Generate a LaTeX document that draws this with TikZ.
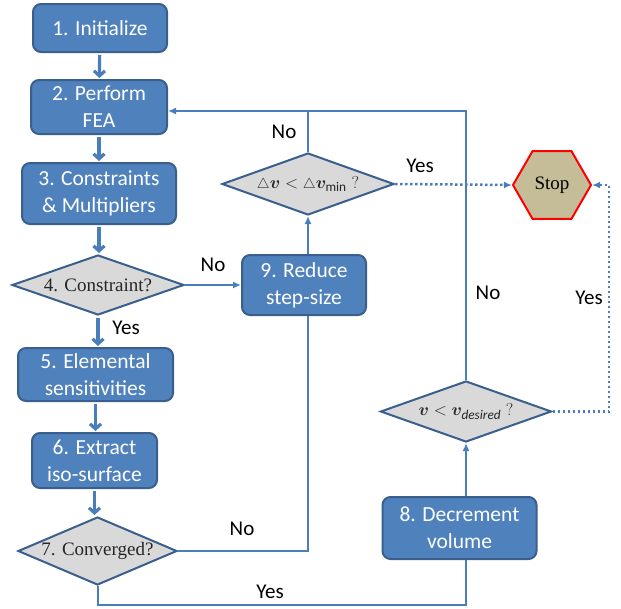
\documentclass[tikz,border=0pt]{standalone}
\usepackage{bm}
\usepackage{fontspec}
\setmainfont{Carlito}
\newfontfamily\serif{Liberation Serif}
\usetikzlibrary{shapes.geometric,arrows.meta}
\definecolor{boxfill}{HTML}{4F81BD}
\definecolor{boxline}{HTML}{3A5F8D}
\definecolor{linec}{HTML}{4A7EBB}
\definecolor{diafill}{HTML}{D9D9D9}
\definecolor{stopfill}{HTML}{C4BD97}
\tikzset{
  stepbox/.style={draw=boxline, line width=2, fill=boxfill, rounded corners=8, text=white, align=center, inner sep=0, font=\fontsize{21.5}{27}\selectfont},
  dia/.style={diamond, draw=boxline, line width=2, fill=diafill, inner sep=0},
  diatext/.style={font=\serif\fontsize{19}{21}\selectfont, text=black!85},
  flow/.style={draw=linec, line width=2},
  down/.style={draw=linec, line width=3.2, -{Straight Barb[length=5,width=11]}, shorten <=2, shorten >=1},
  tip/.style={-{Latex[length=8,width=7]}},
  dots/.style={draw=linec, line width=2.5, dash pattern=on 2.5 off 2.5},
  lbl/.style={font=\fontsize{21}{23}\selectfont}
}
\begin{document}
\begin{tikzpicture}[x=1pt,y=-1pt]
\useasboundingbox (0,0) rectangle (621,608);
% boxes
\node[stepbox, minimum width=134, minimum height=48] (n1) at (100,28) {1. Initialize};
\node[stepbox, minimum width=136, minimum height=54] (n2) at (99,107) {2. Perform\\FEA};
\node[stepbox, minimum width=154, minimum height=61] (n3) at (99,193.5) {3. Constraints\\\& Multipliers};
\node[dia, minimum width=172, minimum height=60] (d4) at (98,285) {};
\node[diatext] (t4) at (d4) {4. Constraint?};
\node[stepbox, minimum width=155, minimum height=53] (n5) at (95.5,374.5) {5. Elemental\\sensitivities};
\node[stepbox, minimum width=125, minimum height=55] (n6) at (94.5,460.5) {6. Extract\\iso-surface};
\node[dia, minimum width=159, minimum height=68] (d7) at (97.5,551) {};
\node[diatext] (t7) at (d7) {7. Converged?};
\node[stepbox, minimum width=124, minimum height=60] (n9) at (304,285) {9. Reduce\\step-size};
\node[dia, minimum width=172, minimum height=62] (dv) at (308,184) {};
\node[diatext] (tv) at (dv) {$\scriptstyle\triangle\textstyle \bm{v}<{\scriptstyle\triangle}\bm{v}_{\min}\;?$};
\node[regular polygon, regular polygon sides=6, minimum size=78, inner sep=0, draw=red, line width=2, fill=stopfill, font=\serif\fontsize{19}{21}\selectfont] (stop) at (552,185) {Stop};
\node[dia, minimum width=171, minimum height=61] (dd) at (466,411.5) {};
\node[diatext] (td) at (dd) {$\bm{v}<\bm{v}_{\mathit{desired}}\;?$};
\node[stepbox, minimum width=154, minimum height=62] (n8) at (459.5,528) {8. Decrement\\volume};
% junctions
\coordinate (j1) at (308,111);
\coordinate (j2) at (466,111);
\coordinate (j3) at (609,300);
\coordinate (j4) at (466,605);
% main column
\draw[down] (n1) -- (n2);
\draw[down] (n2) -- (n3);
\draw[down] (n3.south) -- (n3.south |- d4.north);
\draw[down] (d4.south) -- (d4.south |- n5.north);
\draw[down] (n5.south) -- (n5.south |- n6.north);
\draw[down] (n6.south) -- (n6.south |- d7.north);
% branches
\draw[flow, tip] (d4.east) -- (n9.west);
\draw[flow] (d7.east) -| (n9.south -| dv.south);
\draw[flow, tip] (n9.north -| dv.south) -- (dv.south);
\draw[flow, tip] (dv.north) -- (j1) -- (n2.east |- j1);
\draw[flow] (dd.north) -- (j2) -- (j1);
\draw[dots, tip] (dv.east) -- (stop.west);
\draw[dots, tip] (dd.east) -- (dd.east -| j3) -- (stop.east -| j3) -- (stop.east);
\draw[flow] (d7.south) |- (j4) -- (n8.south -| j4);
\draw[flow, tip] (n8.north -| dd.south) -- (dd.south);
% labels
\node[lbl] (l1) at (213,265) {No};
\node[lbl] (l2) at (126,328) {Yes};
\node[lbl] (l3) at (242,529) {No};
\node[lbl] (l4) at (284,132) {No};
\node[lbl] (l5) at (420,166) {Yes};
\node[lbl] (l6) at (488,293) {No};
\node[lbl] (l7) at (589,298) {Yes};
\node[lbl] (l8) at (270,592) {Yes};
\end{tikzpicture}
\end{document}
